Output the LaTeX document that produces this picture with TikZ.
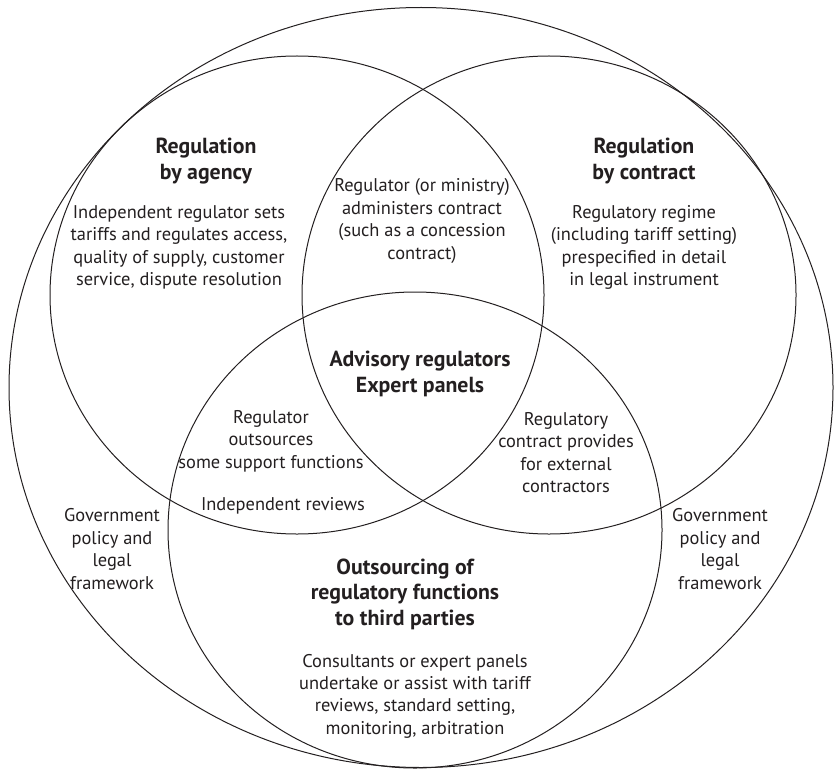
\documentclass[tikz,border=0pt]{standalone}
\usepackage{fontspec}
\setmainfont{PT Sans}
\usetikzlibrary{shapes.geometric}
\definecolor{ink}{HTML}{231F20}
\begin{document}
\begin{tikzpicture}[x=1pt,y=-1pt,
  ring/.style={draw=ink, line width=1pt, ellipse, inner sep=0pt},
  body/.style={align=center, text=ink, font=\fontsize{18.4}{22.4}\selectfont, inner sep=0pt},
  head/.style={align=center, text=ink, font=\fontsize{21.8}{25.5}\selectfont\bfseries, inner sep=0pt}]
\useasboundingbox (0,0) rectangle (834,770);

% outer frame and the three overlapping regimes
\node[ring, minimum width=824pt, minimum height=760pt] (frame) at (421,387.5) {};
\node[ring, minimum width=494pt, minimum height=478pt] (agency) at (297,295) {};
\node[ring, minimum width=494pt, minimum height=478pt] (contract) at (549,295) {};
\node[ring, minimum width=494pt, minimum height=476pt] (outsourcing) at (415,530) {};

% regulation by agency
\node[head] (agencyhead) at (206,161) {Regulation\\by agency};
\node[body] (agencybody) at (179,247.5) {Independent regulator sets\\tariffs and regulates access,\\quality of supply, customer\\service, dispute resolution};

% regulation by contract
\node[head] (contracthead) at (644,161) {Regulation\\by contract};
\node[body] (contractbody) at (644,247.5) {Regulatory regime\\(including tariff setting)\\prespecified in detail\\in legal instrument};

% agency and contract overlap
\node[body] (ministry) at (422,221) {Regulator (or ministry)\\administers contract\\(such as a concession\\contract)};

% centre of all three
\node[head] (advisory) at (420,374) {Advisory regulators\\Expert panels};

% agency and outsourcing overlap
\node[body] (support) at (271,441) {Regulator\\outsources\\some support functions};
\node[body] (reviews) at (283,506) {Independent reviews};

% contract and outsourcing overlap
\node[body] (external) at (566,452.5) {Regulatory\\contract provides\\for external\\contractors};

% outsourcing to third parties
\node[head] (outhead) at (405,594) {Outsourcing of\\regulatory functions\\to third parties};
\node[body] (outbody) at (415,696) {Consultants or expert panels\\undertake or assist with tariff\\reviews, standard setting,\\monitoring, arbitration};

% government framework on both sides
\node[body] (govleft) at (112,549) {Government\\policy and\\legal\\framework};
\node[body] (govright) at (720,549) {Government\\policy and\\legal\\framework};
\end{tikzpicture}
\end{document}
